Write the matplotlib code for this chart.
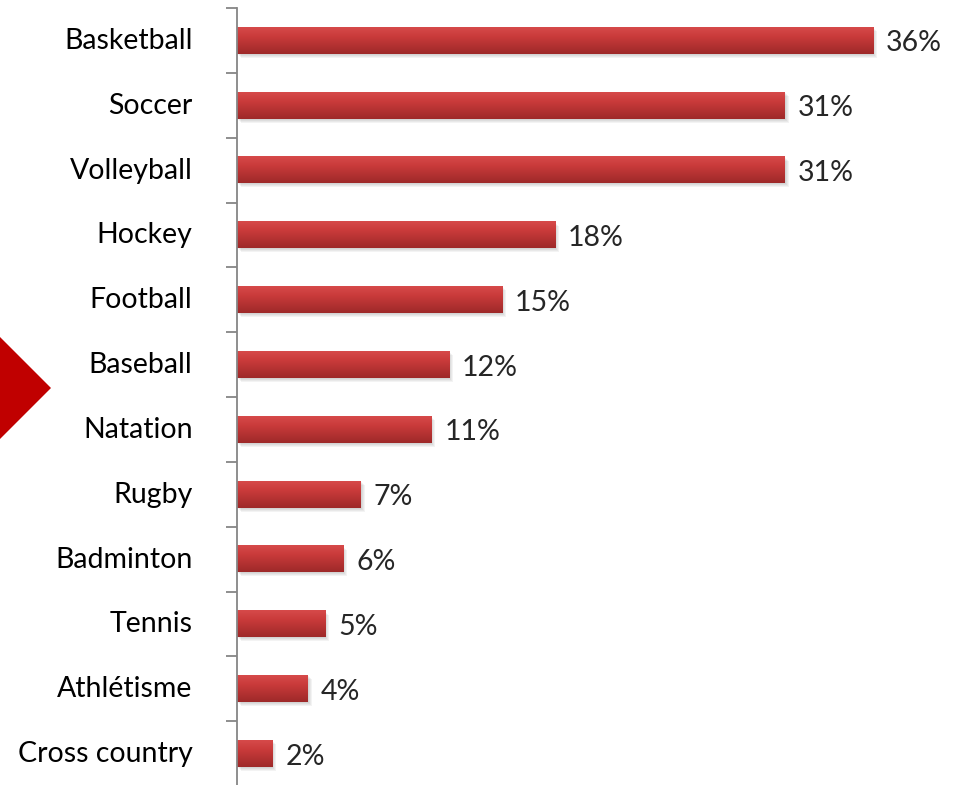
import numpy as np
import matplotlib.pyplot as plt
from matplotlib.patches import Polygon, Rectangle
from matplotlib.transforms import ScaledTranslation

sports = ['Basketball', 'Soccer', 'Volleyball', 'Hockey', 'Football', 'Baseball',
          'Natation', 'Rugby', 'Badminton', 'Tennis', 'Athlétisme', 'Cross country']
shares = [36, 31, 31, 18, 15, 12, 11, 7, 6, 5, 4, 2]

plt.rcParams['font.family'] = ['Lato', 'DejaVu Sans']

W, H = 959, 785
fig = plt.figure(figsize=(W / 100, H / 100), dpi=100)
ax = fig.add_axes([237 / W, -1 / H, 1 - 237 / W, 778 / H])

px_x = 1 / 17.67   # one pixel in data units along x
px_y = 1 / 64.8    # one pixel in data units along y
bar_h = 0.41

# vertical shading of the bars, light on top, dark at the bottom
top = np.array([0.84, 0.29, 0.29])
mid = np.array([0.79, 0.23, 0.23])
bot = np.array([0.62, 0.16, 0.16])
t = np.linspace(0, 1, 64)[:, None]
shade = np.where(t < 0.35, top + (mid - top) * (t / 0.35),
                 mid + (bot - mid) * ((t - 0.35) / 0.65))
shade = shade[:, None, :]

for i, v in enumerate(shares):
    # soft drop shadow
    for k in range(1, 5):
        ax.add_patch(Rectangle((k * px_x, i - bar_h / 2 + k * px_y), v, bar_h,
                               facecolor='0.35', edgecolor='none', alpha=0.07, zorder=1))
    ax.imshow(shade, extent=(0, v, i + bar_h / 2, i - bar_h / 2), aspect='auto',
              interpolation='bilinear', zorder=2)
    ax.text(v + 13 * px_x, i + 3 * px_y, f'{v}%', va='center', ha='left',
            fontsize=20.5, color='#262626')

ax.set_xlim(0, (W - 237) * px_x)
ax.set_ylim(len(sports) - 0.5, -0.5)

ax.set_yticks(range(len(sports)))
ax.set_yticklabels(sports, fontsize=20.5, color='black')
ax.set_yticks(np.arange(-0.5, len(sports), 1), minor=True)
ax.tick_params(axis='y', which='major', length=0, pad=32)
ax.tick_params(axis='y', which='minor', length=8, width=1.3, color='#868686')
ax.set_xticks([])

# lift the category names a little above the bar centres
lift = ScaledTranslation(0, 2 / 100, fig.dpi_scale_trans)
for lbl in ax.get_yticklabels():
    lbl.set_transform(lbl.get_transform() + lift)

for side in ['top', 'right', 'bottom']:
    ax.spines[side].set_visible(False)
ax.spines['left'].set_color('#868686')
ax.spines['left'].set_linewidth(1.3)

# red arrow marker on the left edge
fig.patches.append(Polygon([(-51 / W, 1 - 388 / H), (0, 1 - 337 / H),
                            (51 / W, 1 - 388 / H), (0, 1 - 439 / H)],
                           closed=True, facecolor='#c00000', edgecolor='none',
                           transform=fig.transFigure))

fig.savefig('out.png', dpi=100)
